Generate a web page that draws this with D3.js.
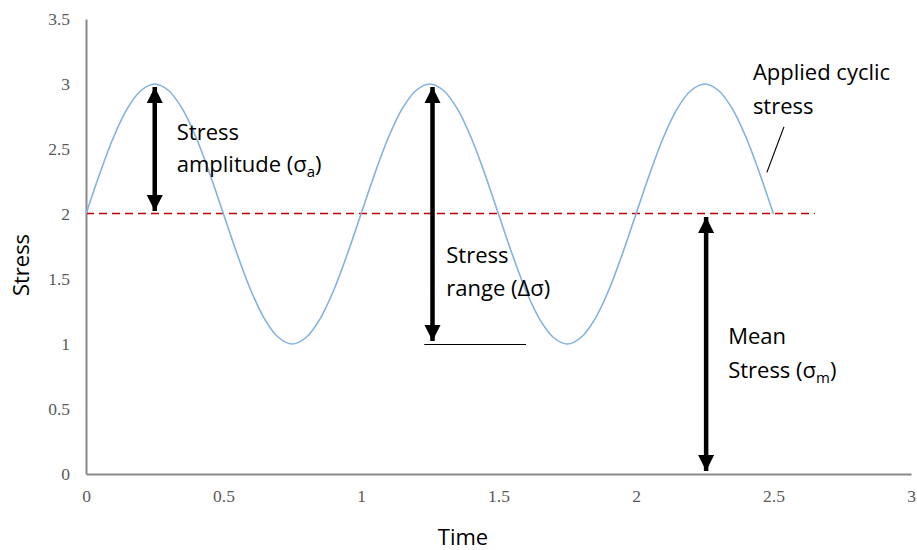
<!DOCTYPE html>
<html>
<head>
<meta charset="utf-8">
<script src="https://cdn.jsdelivr.net/npm/d3@7"></script>
<style>
  html, body { margin: 0; padding: 0; background: #fff; }
  svg { display: block; }
  .ann { font-family: "Open Sans", sans-serif; font-size: 22px; fill: #000; }
  .tick text { font-family: "Liberation Serif", serif; font-size: 17.5px; fill: #595959; }
</style>
</head>
<body>
<svg id="chart" width="917" height="550"></svg>
<script>
// ---- data ----
const timeValues = [
  0, 0.05, 0.1, 0.15, 0.2, 0.25, 0.3, 0.35, 0.4, 0.45,
  0.5, 0.55, 0.6, 0.65, 0.7, 0.75, 0.8, 0.85, 0.9, 0.95,
  1, 1.05, 1.1, 1.15, 1.2, 1.25, 1.3, 1.35, 1.4, 1.45,
  1.5, 1.55, 1.6, 1.65, 1.7, 1.75, 1.8, 1.85, 1.9, 1.95,
  2, 2.05, 2.1, 2.15, 2.2, 2.25, 2.3, 2.35, 2.4, 2.45, 2.5
];
const stressValues = [
  2, 2.31, 2.59, 2.81, 2.95, 3, 2.95, 2.81, 2.59, 2.31,
  2, 1.69, 1.41, 1.19, 1.05, 1, 1.05, 1.19, 1.41, 1.69,
  2, 2.31, 2.59, 2.81, 2.95, 3, 2.95, 2.81, 2.59, 2.31,
  2, 1.69, 1.41, 1.19, 1.05, 1, 1.05, 1.19, 1.41, 1.69,
  2, 2.31, 2.59, 2.81, 2.95, 3, 2.95, 2.81, 2.59, 2.31, 2
];
const xTicks = [0, 0.5, 1, 1.5, 2, 2.5, 3];
const yTicks = [0, 0.5, 1, 1.5, 2, 2.5, 3, 3.5];
const meanStress = 2;
const meanLineEnd = 2.65;
const arrows = [
  { t: 0.25, from: 3, to: 2 },     // amplitude
  { t: 1.26, from: 3, to: 1 },     // range
  { t: 2.255, from: 2, to: 0 }     // mean
];
const rangeBase = { t0: 1.23, t1: 1.6, v: 1 };
const leader = { t0: 2.538, v0: 2.67, t1: 2.476, v1: 2.32 };
const labels = [
  { t: 0.33, v: 2.57, gap: 32, lines: ["Stress", "amplitude (σ|a|)"] },
  { t: 1.31, v: 1.623, gap: 33, lines: ["Stress", "range (Δσ)"] },
  { t: 2.335, v: 1.0, gap: 34, lines: ["Mean", "Stress (σ|m|)"] },
  { t: 2.425, v: 3.03, gap: 34, lines: ["Applied cyclic", "stress"] }
];

// ---- layout ----
const svg = d3.select("#chart");
const mLeft = 86, mRight = 911, mTop = 19, mBottom = 474;
const x = d3.scaleLinear().domain([0, 3]).range([mLeft, mRight]);
const y = d3.scaleLinear().domain([0, 3.5]).range([mBottom, mTop]);

// axes
const xAxis = svg.append("g").attr("transform", `translate(0,${mBottom})`)
  .call(d3.axisBottom(x).tickValues(xTicks).tickSize(0).tickPadding(16).tickFormat(d3.format("")));
const yAxis = svg.append("g").attr("transform", `translate(${mLeft},0)`)
  .call(d3.axisLeft(y).tickValues(yTicks).tickSize(0).tickPadding(16).tickFormat(d3.format("")));
[xAxis, yAxis].forEach(g => g.select(".domain").attr("stroke", "#898989").attr("stroke-width", 2));

// axis titles
svg.append("text").attr("class", "ann").attr("x", 463).attr("y", 545)
  .attr("text-anchor", "middle").text("Time");
svg.append("text").attr("class", "ann")
  .attr("transform", "translate(29,265) rotate(-90)")
  .attr("text-anchor", "middle").text("Stress");

// mean dashed line
svg.append("line")
  .attr("x1", x(0)).attr("x2", x(meanLineEnd))
  .attr("y1", y(meanStress) - 0.5).attr("y2", y(meanStress) - 0.5)
  .attr("stroke", "#c00000").attr("stroke-width", 1.3)
  .attr("stroke-dasharray", "8,5");

// sine curve
const pts = timeValues.map((t, i) => [t, stressValues[i]]);
svg.append("path").datum(pts)
  .attr("fill", "none").attr("stroke", "#82b1e2").attr("stroke-width", 1.6)
  .attr("d", d3.line().x(d => x(d[0])).y(d => y(d[1])).curve(d3.curveCatmullRom));

// arrowheads
const defs = svg.append("defs");
defs.append("marker").attr("id", "ah")
  .attr("viewBox", "0 0 10 10").attr("refX", 10).attr("refY", 5)
  .attr("markerUnits", "userSpaceOnUse")
  .attr("markerWidth", 16).attr("markerHeight", 17)
  .attr("orient", "auto-start-reverse")
  .append("path").attr("d", "M0,0 L10,5 L0,10 Z").attr("fill", "#000");

arrows.forEach(a => {
  svg.append("line")
    .attr("x1", x(a.t)).attr("x2", x(a.t))
    .attr("y1", y(a.from) + 3).attr("y2", y(a.to) - 3)
    .attr("stroke", "#000").attr("stroke-width", 4.5)
    .attr("marker-start", "url(#ah)").attr("marker-end", "url(#ah)");
});

// range baseline
svg.append("line")
  .attr("x1", x(rangeBase.t0)).attr("x2", x(rangeBase.t1))
  .attr("y1", y(rangeBase.v) + 0.5).attr("y2", y(rangeBase.v) + 0.5)
  .attr("stroke", "#000").attr("stroke-width", 1);

// leader line
svg.append("line")
  .attr("x1", x(leader.t0)).attr("y1", y(leader.v0))
  .attr("x2", x(leader.t1)).attr("y2", y(leader.v1))
  .attr("stroke", "#000").attr("stroke-width", 1.2);

// labels (|x| = subscript)
labels.forEach(l => {
  l.lines.forEach((line, i) => {
    const txt = svg.append("text").attr("class", "ann")
      .attr("x", x(l.t)).attr("y", y(l.v) + i * l.gap);
    const parts = line.split("|");
    parts.forEach((p, j) => {
      if (!p) return;
      const ts = txt.append("tspan").text(p);
      if (j % 2 === 1) {
        ts.attr("font-size", "15px").attr("dy", "5");
      } else if (j > 0) {
        ts.attr("dy", "-5");
      }
    });
  });
});
</script>
</body>
</html>
